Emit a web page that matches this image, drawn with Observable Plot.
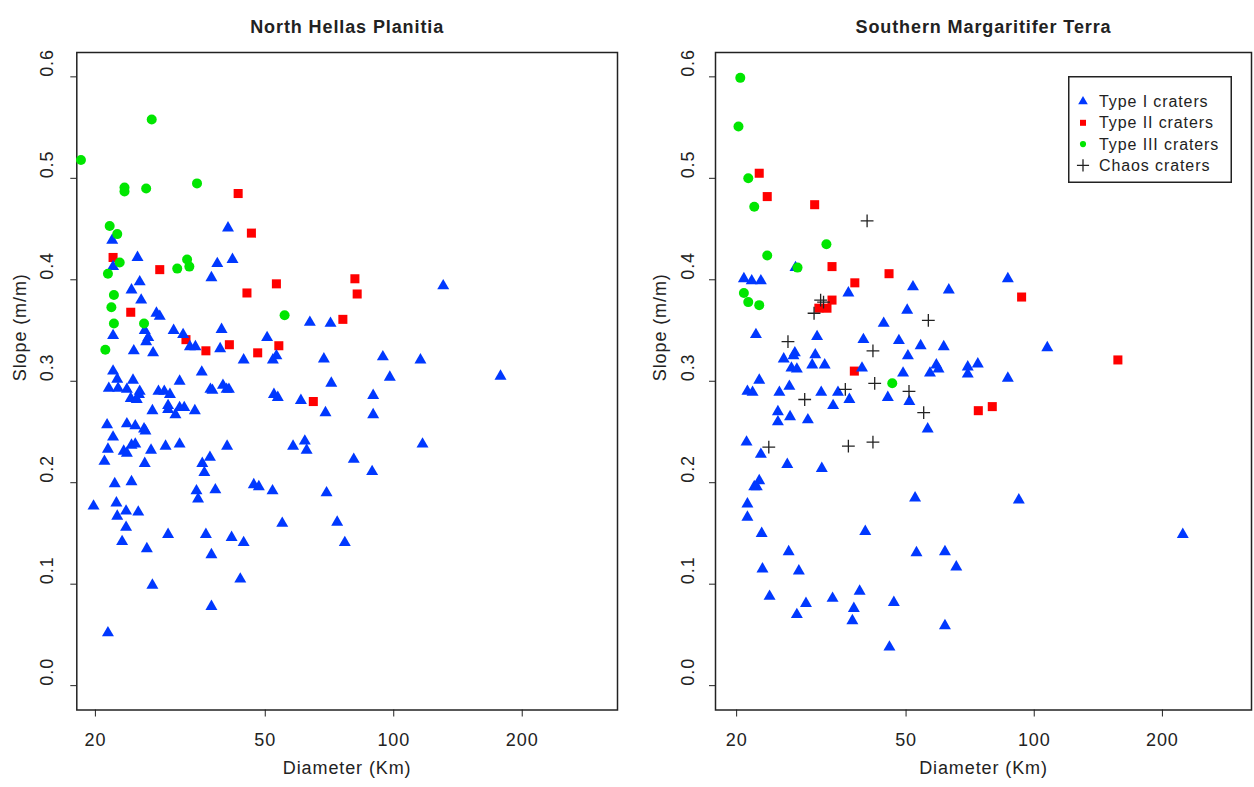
<!DOCTYPE html>
<html>
<head>
<meta charset="utf-8">
<script src="https://cdn.jsdelivr.net/npm/d3@7"></script>
<script src="https://cdn.jsdelivr.net/npm/@observablehq/plot@0.6"></script>
<style>
html, body { margin: 0; padding: 0; background: #fff; overflow: hidden; }
#wrap { position: relative; width: 1254px; height: 787px; }
.panel { position: absolute; top: 0; }
.panel svg text { letter-spacing: 0.9px; }
#legend { position: absolute; left: 1068px; top: 76px; }
</style>
</head>
<body>
<div id="wrap">
  <div class="panel" id="left" style="left:0px"></div>
  <div class="panel" id="right" style="left:627px"></div>
  <div id="legend"></div>
</div>
<script>
// ---------- data ----------
const xTicks = [20, 50, 100, 200];
const yTicks = [0, 0.1, 0.2, 0.3, 0.4, 0.5, 0.6];
const xLabel = "Diameter (Km)";
const yLabel = "Slope (m/m)";
const titles = ["North Hellas Planitia", "Southern Margaritifer Terra"];
const legendLabels = ["Type I craters", "Type II craters", "Type III craters", "Chaos craters"];

// North Hellas Planitia
const nhType1Diam = [40.9,21.9,25.1,22.0,38.6,41.9,37.4,25.4,24.3,25.6,27.8,28.3,63.6,71.1,22.0,26.1,26.6,26.3,30.5,32.1,39.5,50.5,24.6,27.3,33.3,34.3,39.2,44.5,53.1,52.1,68.6,22.0,35.5,22.5,24.5,21.5,22.6,23.7,25.4,25.3,24.2,25.0,31.5,28.1,29.0,29.9,37.2,37.6,39.8,40.6,41.1,71.4,52.4,53.5,60.6,69.2,27.2,29.6,29.6,30.8,31.5,32.3,34.2,21.3,23.7,24.8,26.0,26.2,22.0,21.4,23.3,23.7,24.3,24.8,27.0,29.2,31.5,40.7,58.1,61.9,62.5,80.6,21.0,26.1,37.1,35.6,36.0,22.2,24.3,34.5,34.8,38.2,47.0,48.3,52.0,69.6,19.8,22.4,23.6,22.5,25.2,23.6,23.1,26.4,29.6,36.3,41.7,44.5,37.4,54.8,73.7,76.8,27.2,43.7,37.4,21.4,130.6,94.3,115.5,97.9,177.9,89.5,89.5,116.8,89.0];
const nhType1Slope = [0.451,0.439,0.422,0.413,0.416,0.420,0.402,0.398,0.390,0.380,0.367,0.364,0.358,0.357,0.345,0.350,0.343,0.339,0.350,0.346,0.351,0.343,0.330,0.328,0.334,0.334,0.332,0.321,0.325,0.321,0.322,0.310,0.309,0.302,0.301,0.293,0.293,0.292,0.290,0.287,0.283,0.282,0.300,0.290,0.290,0.287,0.292,0.291,0.296,0.292,0.292,0.298,0.287,0.284,0.281,0.269,0.271,0.276,0.272,0.267,0.274,0.274,0.271,0.257,0.258,0.256,0.253,0.251,0.245,0.233,0.231,0.229,0.237,0.238,0.232,0.236,0.238,0.236,0.236,0.241,0.232,0.223,0.221,0.219,0.225,0.219,0.210,0.199,0.201,0.192,0.184,0.193,0.198,0.196,0.192,0.190,0.177,0.180,0.172,0.167,0.171,0.156,0.142,0.135,0.149,0.149,0.146,0.141,0.129,0.160,0.161,0.141,0.099,0.105,0.078,0.052,0.394,0.324,0.321,0.304,0.305,0.286,0.267,0.238,0.211];
const nhType2Diam = [43.2,46.4,22.0,28.3,81.1,82.1,53.1,45.3,24.2,76.0,32.6,36.3,41.2,48.0,53.8,64.8];
const nhType2Slope = [0.485,0.446,0.422,0.410,0.401,0.386,0.396,0.387,0.368,0.361,0.341,0.330,0.336,0.328,0.335,0.280];
const nhType3Diam = [27.1,18.5,23.4,23.4,26.3,34.6,21.6,22.5,22.8,21.4,32.8,31.1,33.2,22.1,21.8,22.1,26.0,21.1,55.5];
const nhType3Slope = [0.558,0.518,0.491,0.487,0.490,0.495,0.453,0.445,0.417,0.406,0.420,0.411,0.413,0.385,0.373,0.357,0.357,0.331,0.365];

// Southern Margaritifer Terra
const smType1Diam = [20.8,21.7,22.8,27.5,36.6,51.9,63.0,50.3,44.3,22.2,30.9,39.7,48.1,54.1,61.3,25.8,27.4,27.2,30.6,50.5,26.9,27.7,30.1,32.2,39.4,58.9,56.9,59.6,22.6,21.2,21.8,25.2,26.6,31.6,34.6,36.8,33.7,49.2,45.3,50.9,25.0,25.0,26.7,29.4,56.2,21.1,22.8,26.3,31.7,22.6,22.0,22.3,52.5,21.2,21.2,22.9,40.1,26.5,52.9,61.7,65.6,23.0,28.0,23.9,29.1,27.7,33.6,38.9,37.7,37.4,46.8,61.7,45.7,86.7,107.3,69.8,73.7,69.8,86.7,92.0,223.3];
const smType1Slope = [0.401,0.399,0.399,0.412,0.387,0.393,0.390,0.370,0.357,0.346,0.344,0.341,0.340,0.335,0.334,0.322,0.328,0.325,0.326,0.325,0.313,0.312,0.316,0.316,0.313,0.316,0.308,0.312,0.301,0.290,0.289,0.289,0.295,0.289,0.289,0.282,0.276,0.308,0.284,0.280,0.270,0.260,0.265,0.262,0.253,0.240,0.228,0.218,0.214,0.202,0.196,0.196,0.185,0.179,0.166,0.150,0.152,0.132,0.131,0.132,0.117,0.115,0.113,0.088,0.081,0.070,0.086,0.093,0.076,0.064,0.082,0.059,0.038,0.401,0.333,0.314,0.317,0.307,0.303,0.183,0.149];
const smType2Diam = [22.6,23.6,30.5,33.5,45.6,37.9,33.5,31.2,32.6,37.8,93.4,157.2,73.9,79.7];
const smType2Slope = [0.505,0.482,0.474,0.413,0.406,0.397,0.380,0.372,0.372,0.310,0.383,0.321,0.271,0.275];
const smType3Diam = [20.4,20.2,21.3,22.0,23.6,32.5,27.8,20.8,21.3,22.6,46.4];
const smType3Slope = [0.599,0.551,0.500,0.472,0.424,0.435,0.412,0.387,0.378,0.375,0.298];
const smChaosDiam = [40.5,31.5,32.0,30.4,56.4,26.4,41.8,36.0,42.2,50.8,28.9,55.0,23.8,36.6,41.8];
const smChaosSlope = [0.458,0.380,0.378,0.367,0.360,0.339,0.330,0.292,0.298,0.290,0.282,0.269,0.235,0.236,0.240];

// ---------- styles ----------
const BLUE = "#0038ff", RED = "#ff0000", GREEN = "#00e600", INK = "#222";
const FONT = "'Liberation Sans', Arial, sans-serif";

const rows = (ds, ss) => ds.map((d, i) => ({d, s: ss[i]}));

function panel({title, groups, width, marginLeft, marginRight, xDomain, yTickDx, yLabDx}) {
  const marks = [
    Plot.frame({stroke: INK, strokeWidth: 1.5}),
    Plot.axisX(xTicks, {tickSize: 7, tickFormat: () => "", label: null, stroke: INK}),
    Plot.axisY(yTicks, {tickSize: 6, tickFormat: () => "", label: null, stroke: INK}),
    Plot.text(xTicks, {x: d => d, frameAnchor: "bottom", dy: 36, text: d => String(d), fontSize: 18, fill: INK}),
    Plot.text(yTicks, {y: d => d, frameAnchor: "left", dx: yTickDx, rotate: -90, text: d => d.toFixed(1), fontSize: 18, fill: INK}),
    Plot.text([xLabel], {frameAnchor: "bottom", dy: 64, text: d => d, fontSize: 18, fill: INK}),
    Plot.text([yLabel], {frameAnchor: "left", dx: yLabDx, rotate: -90, text: d => d, fontSize: 18, fill: INK}),
    Plot.text([title], {frameAnchor: "top", dy: -32, text: d => d, fontSize: 18, fontWeight: "bold", fill: INK})
  ];
  if (groups.t2) marks.push(Plot.dot(groups.t2, {x: "d", y: "s", symbol: "square", r: 5.1, fill: RED}));
  if (groups.t1) marks.push(Plot.dot(groups.t1, {x: "d", y: "s", symbol: "triangle", r: 4.45, fill: BLUE}));
  if (groups.t3) marks.push(Plot.dot(groups.t3, {x: "d", y: "s", symbol: "circle", r: 5, fill: GREEN}));
  if (groups.ch) marks.push(Plot.dot(groups.ch, {x: "d", y: "s", symbol: "plus", r: 4.2, stroke: INK, strokeWidth: 1.3}));
  return Plot.plot({
    width, height: 787,
    marginTop: 52, marginBottom: 77.5, marginLeft, marginRight,
    x: {type: "log", domain: xDomain},
    y: {domain: [-0.024, 0.624]},
    style: {fontFamily: FONT, background: "#fff", color: INK, overflow: "visible"},
    marks
  });
}

document.getElementById("left").appendChild(panel({
  title: titles[0],
  groups: {t1: rows(nhType1Diam, nhType1Slope), t2: rows(nhType2Diam, nhType2Slope), t3: rows(nhType3Diam, nhType3Slope)},
  width: 627, marginLeft: 76.3, marginRight: 10, xDomain: [18.09, 334.4], yTickDx: -30, yLabDx: -57
}));

document.getElementById("right").appendChild(panel({
  title: titles[1],
  groups: {t1: rows(smType1Diam, smType1Slope), t2: rows(smType2Diam, smType2Slope), t3: rows(smType3Diam, smType3Slope), ch: rows(smChaosDiam, smChaosSlope)},
  width: 627, marginLeft: 88, marginRight: 3, xDomain: [17.84, 323.8], yTickDx: -27, yLabDx: -55
}));

// ---------- legend ----------
(function legend() {
  const W = 164, H = 107, rowY = [25.5, 46.8, 68.1, 89.4];
  const svg = d3.select("#legend").append("svg").attr("width", W).attr("height", H)
    .style("font-family", FONT).style("overflow", "visible");
  svg.append("rect").attr("x", 0.75).attr("y", 0.75).attr("width", W - 1.5).attr("height", H - 1.5)
    .attr("fill", "#fff").attr("stroke", INK).attr("stroke-width", 1.5);
  const syms = [
    {type: d3.symbolTriangle, size: 40, fill: BLUE},
    {type: d3.symbolSquare, size: 36, fill: RED},
    {type: d3.symbolCircle, size: 30, fill: GREEN},
    {type: d3.symbolPlus, size: 50, stroke: INK}
  ];
  syms.forEach((s, i) => {
    const p = svg.append("path").attr("d", d3.symbol(s.type, s.size)())
      .attr("transform", `translate(15,${rowY[i]})`);
    if (s.fill) p.attr("fill", s.fill); else p.attr("fill", "none").attr("stroke", s.stroke).attr("stroke-width", 1.3);
    svg.append("text").attr("x", 31).attr("y", rowY[i]).attr("dy", "0.35em")
      .attr("font-size", 16).attr("fill", INK).style("letter-spacing", "0.9px").text(legendLabels[i]);
  });
})();
</script>
</body>
</html>
